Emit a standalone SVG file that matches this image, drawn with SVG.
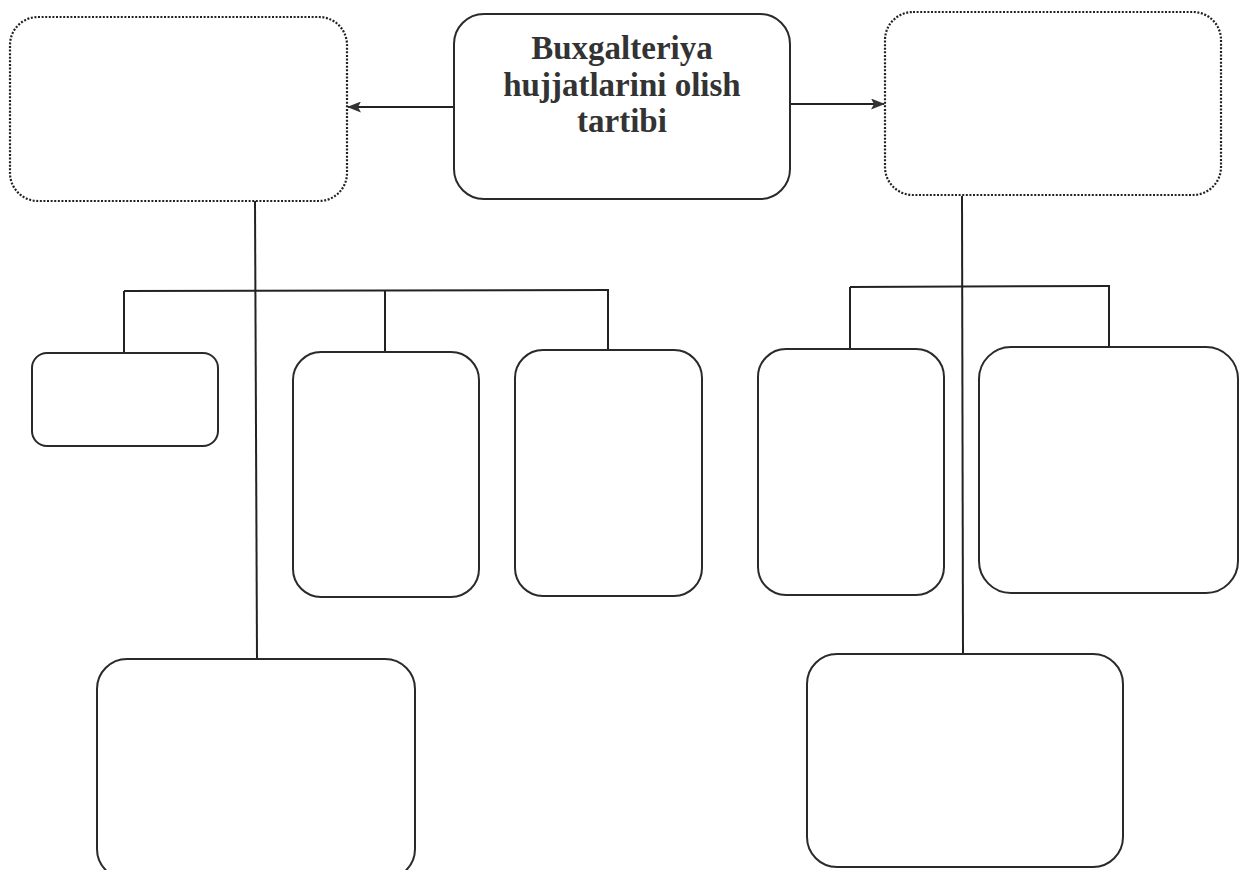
<svg xmlns="http://www.w3.org/2000/svg" width="1239" height="870" viewBox="0 0 1239 870">
<style>
.box{fill:#fff;stroke:#2a2a2a;stroke-width:2}
.dot{fill:#fff;stroke:#222;stroke-width:2.2;stroke-dasharray:2 1.6}
.ln{fill:none;stroke:#222;stroke-width:2}
.t{font-family:"Liberation Serif","Times New Roman",serif;font-weight:bold;font-size:33px;fill:#333;text-anchor:middle}
</style>
<defs>
<marker id="ah" viewBox="0 0 14 11" refX="13" refY="5.5" markerWidth="14" markerHeight="11" markerUnits="userSpaceOnUse" orient="auto">
<path d="M0,0 L14,5.5 L0,11 L3,5.5 Z" fill="#333"/>
</marker>
</defs>
<rect width="1239" height="870" fill="#fff"/>
<g id="connectors">
<line class="ln" x1="454" y1="107" x2="348" y2="107" marker-end="url(#ah)"/>
<line class="ln" x1="790" y1="104" x2="884" y2="104" marker-end="url(#ah)"/>
<line class="ln" x1="255" y1="201" x2="257" y2="659"/>
<line class="ln" x1="124" y1="291" x2="609" y2="290"/>
<line class="ln" x1="124" y1="291" x2="124" y2="353"/>
<line class="ln" x1="385" y1="291" x2="385" y2="352"/>
<line class="ln" x1="608" y1="290" x2="608" y2="351"/>
<line class="ln" x1="962" y1="196" x2="963" y2="654"/>
<line class="ln" x1="850" y1="287" x2="1110" y2="286"/>
<line class="ln" x1="850" y1="287" x2="850" y2="349"/>
<line class="ln" x1="1109" y1="286" x2="1109" y2="347"/>
</g>
<g id="left-top"><rect class="dot" x="10" y="17" width="337" height="184" rx="28"/></g>
<g id="center">
<rect class="box" x="454" y="14" width="336" height="185" rx="30"/>
<text class="t" x="622" y="59">Buxgalteriya</text>
<text class="t" x="622" y="96">hujjatlarini olish</text>
<text class="t" x="622" y="132">tartibi</text>
</g>
<g id="right-top"><rect class="dot" x="885" y="12" width="336" height="183" rx="28"/></g>
<g id="l1"><rect class="box" x="32" y="353" width="186" height="93" rx="15"/></g>
<g id="l2"><rect class="box" x="293" y="352" width="186" height="245" rx="28"/></g>
<g id="l3"><rect class="box" x="515" y="350" width="187" height="246" rx="28"/></g>
<g id="r1"><rect class="box" x="758" y="349" width="186" height="246" rx="28"/></g>
<g id="r2"><rect class="box" x="979" y="347" width="259" height="246" rx="32"/></g>
<g id="l-bottom"><rect class="box" x="97" y="659" width="318" height="220" rx="30"/></g>
<g id="r-bottom"><rect class="box" x="807" y="654" width="316" height="213" rx="30"/></g>
</svg>
